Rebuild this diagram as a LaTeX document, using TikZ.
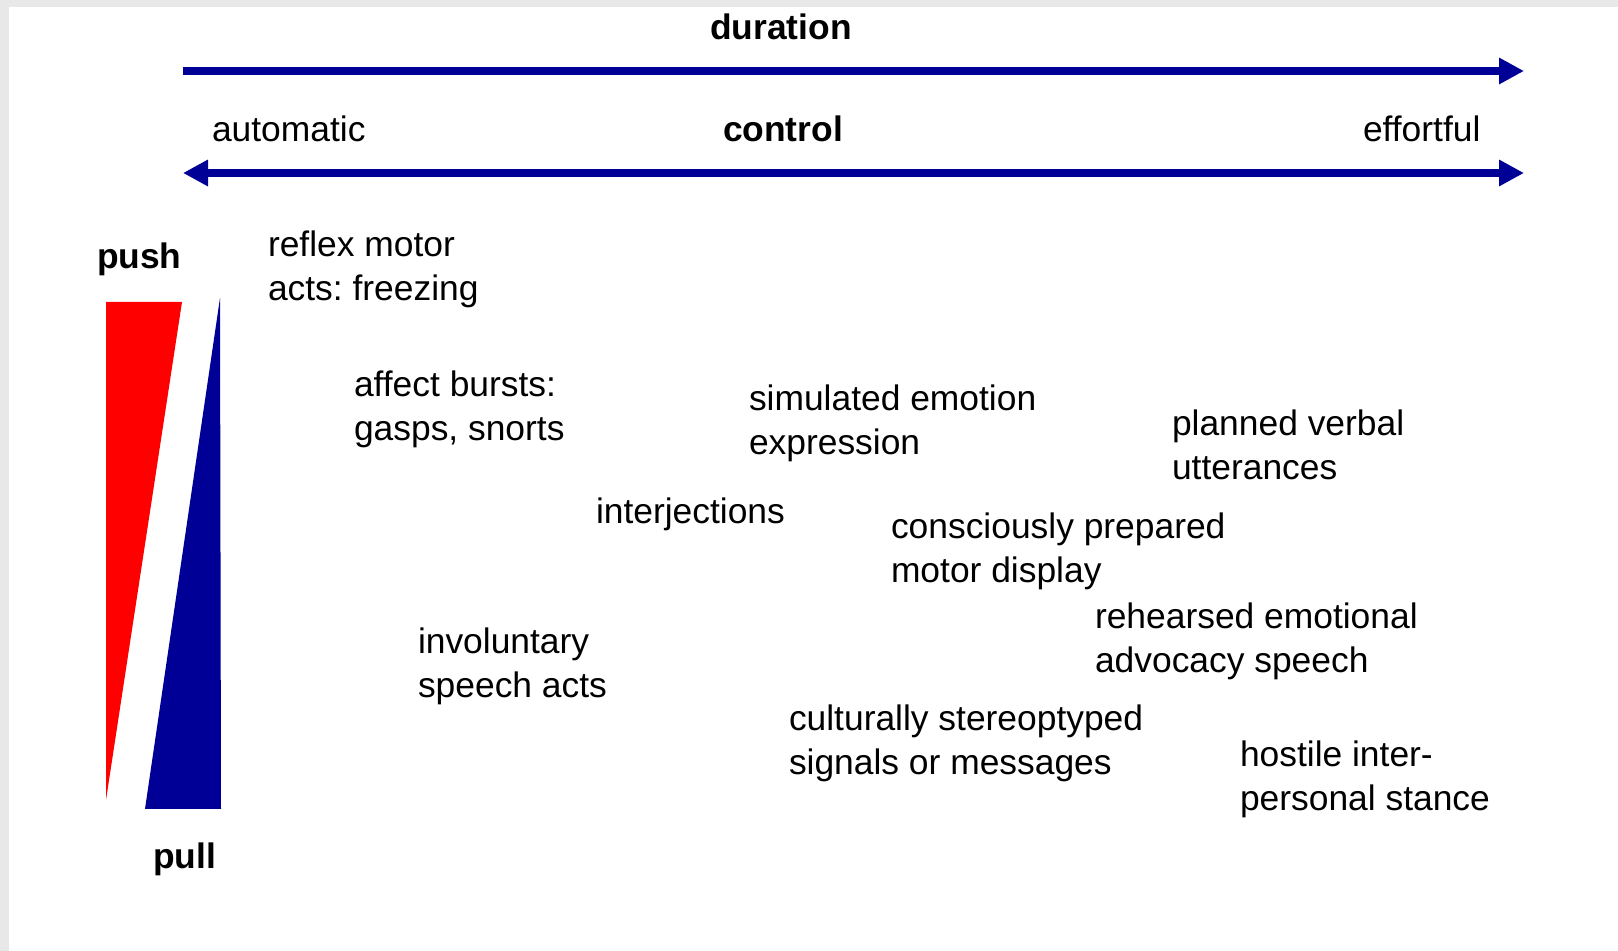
\documentclass[tikz,border=0pt]{standalone}
\usepackage{fontspec}
\setmainfont{Liberation Sans}
\usetikzlibrary{arrows.meta}
\frenchspacing

\definecolor{axisblue}{RGB}{0,0,150}
\definecolor{wedgered}{RGB}{255,0,0}
\definecolor{framegray}{RGB}{232,232,232}

% two stacked lines; the box baseline is the first line's baseline
\newcommand{\pairlines}[2]{\vtop{\baselineskip=21.6pt\hbox{#1}\hbox{#2}}}

\tikzset{
  lbl/.style={anchor=base west, inner sep=0pt, outer sep=0pt,
              font=\fontsize{17.7pt}{21.6pt}\selectfont},
  headlbl/.style={anchor=base, inner sep=0pt, outer sep=0pt,
              font=\fontsize{17.7pt}{21.6pt}\selectfont\bfseries},
  polelbl/.style={anchor=base west, inner sep=0pt, outer sep=0pt,
              font=\fontsize{17.7pt}{21.6pt}\selectfont\bfseries},
  axis/.style={draw=axisblue, line width=4pt,
              arrows={-Triangle[length=12.5pt, width=12.5pt]}},
  twoaxis/.style={draw=axisblue, line width=4pt,
              arrows={Triangle[length=12.5pt, width=12.5pt]-Triangle[length=12.5pt, width=12.5pt]}},
}

\begin{document}
\begin{tikzpicture}[x=0.5pt, y=-0.5pt]
  \useasboundingbox (0,0) rectangle (1618,951);
  % page frame
  \fill[framegray] (0,0) rectangle (1618,951);
  \fill[white] (9,7) rectangle (1618,951);

  % duration axis
  \node[headlbl] (duration) at (781,40) {duration};
  \coordinate (durStart) at (183,71);
  \coordinate (durEnd) at (1524,71);
  \draw[axis] (durStart) -- (durEnd);

  % control axis
  \node[lbl] (automatic) at (212,142) {automatic};
  \node[headlbl] (control) at (783,142) {control};
  \node[lbl] (effortful) at (1363,142) {effortful};
  \coordinate (ctlStart) at (183,173);
  \coordinate (ctlEnd) at (1524,173);
  \draw[twoaxis] (ctlStart) -- (ctlEnd);

  % push / pull wedges
  \node[polelbl] (push) at (97,269) {push};
  \node[polelbl] (pull) at (153,868) {pull};
  \fill[wedgered] (106,302) -- (182,302) -- (106,800) -- cycle;
  \fill[axisblue] (220,298) -- (221,809) -- (145,809) -- cycle;

  % expression types
  \node[lbl] (reflex) at (268,257) {\pairlines{reflex motor}{acts: freezing}};
  \node[lbl] (affect) at (354,397) {\pairlines{affect bursts:}{gasps, snorts}};
  \node[lbl] (simulated) at (749,411) {\pairlines{simulated emotion}{expression}};
  \node[lbl] (planned) at (1172,436) {\pairlines{planned verbal}{utterances}};
  \node[lbl] (interj) at (596,524) {interjections};
  \node[lbl] (conscious) at (891,539) {\pairlines{consciously prepared}{motor display}};
  \node[lbl] (rehearsed) at (1095,629) {\pairlines{rehearsed emotional}{advocacy speech}};
  \node[lbl] (involuntary) at (418,654) {\pairlines{involuntary}{speech acts}};
  \node[lbl] (cultural) at (789,731) {\pairlines{culturally stereoptyped}{signals or messages}};
  \node[lbl] (hostile) at (1240,767) {\pairlines{hostile inter-}{personal stance}};
\end{tikzpicture}
\end{document}
